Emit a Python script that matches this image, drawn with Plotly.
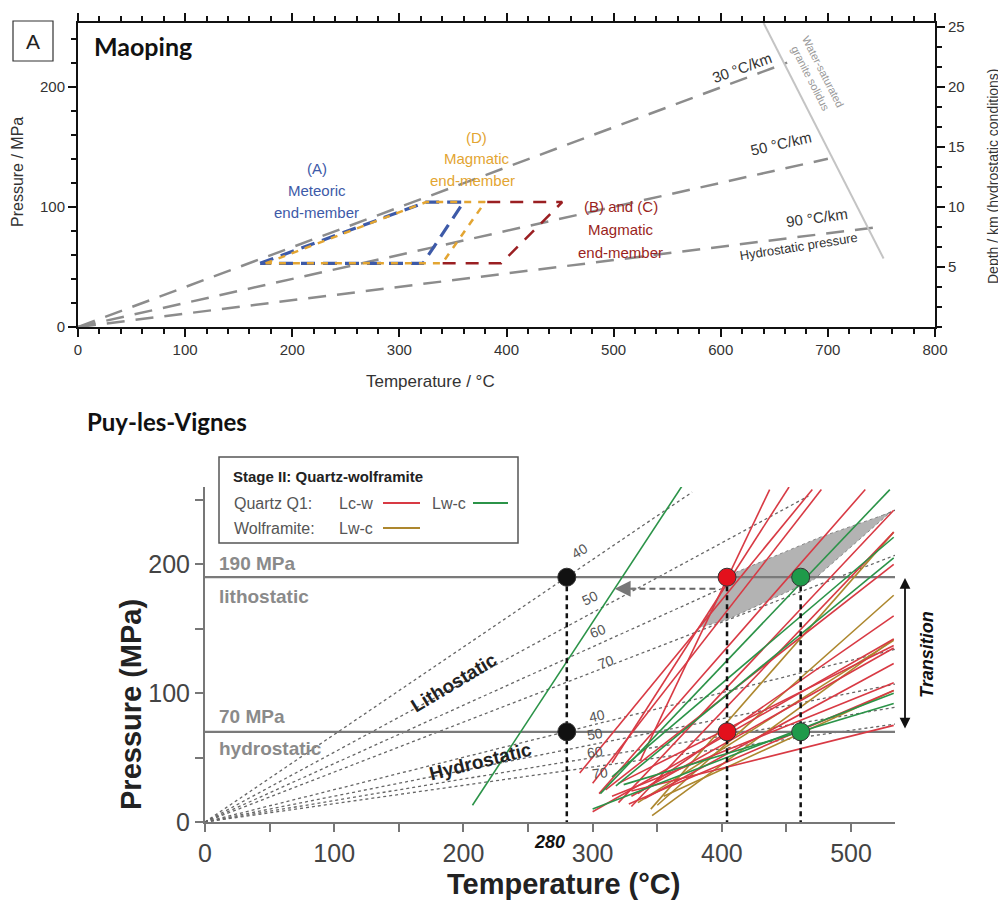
import plotly.graph_objects as go

# page body has an 8px margin: the figure is drawn at (8, 8)
OFF = 8
W, H = 1006 - OFF, 902 - OFF
def PX(x): return (x - OFF) / W
def PY(y): return 1 - (y - OFF) / H

# ================= DATA: Maoping (top panel) =================
mp_grad_labels = ["30 °C/km", "50 °C/km", "90 °C/km"]
mp_grad_T_end = [662, 700, 745]
mp_grad_P_end = [220, 140, 83]
solidus_T = [640, 752]
solidus_P = [253, 57]
meteoric_T = [170, 325, 360, 322, 170]
meteoric_P = [53, 104, 104, 53, 53]
magD_T = [175, 325, 380, 340, 175]
magD_P = [53, 104, 104, 53, 53]
magBC_T = [382, 452, 395, 340]
magBC_P = [104, 104, 53, 53]
mp_xticks = [0, 100, 200, 300, 400, 500, 600, 700, 800]
mp_yticks = [0, 100, 200]
mp_depth_ticks = [5, 10, 15, 20, 25]

# ================= DATA: Puy-les-Vignes (bottom panel) =================
plv_grad_labels = ["40", "50", "60", "70"]
lith_T_end = [377, 467, 534, 534]
lith_P_end = [256, 253, 242, 207]
hydro_T_end = [534, 534, 534, 534]
hydro_P_end = [134, 107, 89, 76]
P_levels = [190, 70]
dot_T = [280, 404, 461]
dot_colors = ["#111111", "#e3101c", "#1f9a4a"]

# Quartz Q1 Lc-w isochores: (T1, P1, T2, P2)
red_iso = [
    (315, 46, 452, 260), (290, 38, 470, 258), (300, 30, 477, 258),
    (305, 22, 511, 258), (320, 15, 533, 242), (330, 12, 533, 225),
    (310, 25, 533, 200), (335, 22, 533, 160), (300, 8, 533, 142),
    (320, 30, 533, 137), (330, 20, 533, 135), (340, 18, 533, 123),
    (315, 20, 533, 108), (328, 14, 533, 102), (330, 24, 533, 75),
    (337, 48, 437, 258),
]
# Quartz Q1 Lw-c isochores
green_iso = [
    (207, 13, 370, 262), (306, 22, 530, 258), (315, 35, 533, 221),
    (318, 28, 533, 205), (300, 10, 533, 100), (324, 29, 533, 92),
]
# Wolframite Lw-c isochores
brown_iso = [
    (345, 10, 533, 225), (350, 13, 533, 176), (346, 5, 533, 142),
    (355, 20, 533, 102), (335, 15, 533, 141),
]
# grey overlap field
field_T = [383, 409, 476, 530, 471, 404, 383]
field_P = [151, 193, 221, 240, 188, 157, 151]
plv_xticks = [0, 50, 100, 150, 200, 250, 300, 350, 400, 450, 500]
plv_xtext = ["0", "", "100", "", "200", "", "300", "", "400", "", "500"]
plv_yticks = [0, 50, 100, 150, 200, 250]
plv_ytext = ["0", "", "100", "", "200", ""]

RED, GREEN, BROWN = "#d83a44", "#2b9348", "#ad872e"
ARIAL = "Liberation Sans, Arial, sans-serif"
HEAD = "Lato, Open Sans, sans-serif"

fig = go.Figure()

# ---------- top panel ----------
for Te, Pe in zip(mp_grad_T_end, mp_grad_P_end):
    fig.add_trace(go.Scatter(x=[0, Te], y=[0, Pe], mode="lines", xaxis="x", yaxis="y",
                             line=dict(color="#8c8c8c", width=2.5, dash="18px,11px"),
                             showlegend=False, hoverinfo="skip"))
fig.add_trace(go.Scatter(x=solidus_T, y=solidus_P, mode="lines", xaxis="x", yaxis="y",
                         line=dict(color="#c4c4c4", width=2), showlegend=False, hoverinfo="skip"))
fig.add_trace(go.Scatter(x=meteoric_T, y=meteoric_P, mode="lines", xaxis="x", yaxis="y",
                         line=dict(color="#3d5aa8", width=3.2, dash="14px,8px"),
                         showlegend=False, hoverinfo="skip"))
fig.add_trace(go.Scatter(x=magD_T, y=magD_P, mode="lines", xaxis="x", yaxis="y",
                         line=dict(color="#e3a532", width=2.5, dash="7px,7px"),
                         showlegend=False, hoverinfo="skip"))
fig.add_trace(go.Scatter(x=magBC_T, y=magBC_P, mode="lines", xaxis="x", yaxis="y",
                         line=dict(color="#9a1f22", width=2.5, dash="13px,10px"),
                         showlegend=False, hoverinfo="skip"))
# dummy for right axis
fig.add_trace(go.Scatter(x=[0], y=[0], mode="markers", xaxis="x", yaxis="y2",
                         marker=dict(opacity=0), showlegend=False, hoverinfo="skip"))

# ---------- bottom panel ----------
for Te, Pe in zip(lith_T_end, lith_P_end):
    fig.add_trace(go.Scatter(x=[0, Te], y=[0, Pe], mode="lines", xaxis="x2", yaxis="y3",
                             line=dict(color="#666", width=1.3, dash="dot"),
                             showlegend=False, hoverinfo="skip"))
for Te, Pe in zip(hydro_T_end, hydro_P_end):
    fig.add_trace(go.Scatter(x=[0, Te], y=[0, Pe], mode="lines", xaxis="x2", yaxis="y3",
                             line=dict(color="#666", width=1.3, dash="dot"),
                             showlegend=False, hoverinfo="skip"))
fig.add_trace(go.Scatter(x=field_T, y=field_P, mode="lines", fill="toself", xaxis="x2", yaxis="y3",
                         fillcolor="#b3b3b3", line=dict(color="#888", width=1, dash="dot"),
                         showlegend=False, hoverinfo="skip"))
for P in P_levels:
    fig.add_trace(go.Scatter(x=[0, 534], y=[P, P], mode="lines", xaxis="x2", yaxis="y3",
                             line=dict(color="#7a7a7a", width=2.2), showlegend=False, hoverinfo="skip"))
for lines, col in ((brown_iso, BROWN), (red_iso, RED), (green_iso, GREEN)):
    for (T1, P1, T2, P2) in lines:
        fig.add_trace(go.Scatter(x=[T1, T2], y=[P1, P2], mode="lines", xaxis="x2", yaxis="y3",
                                 line=dict(color=col, width=1.6), showlegend=False, hoverinfo="skip"))
# dashed arrow line
fig.add_trace(go.Scatter(x=[395, 330], y=[181, 181], mode="lines", xaxis="x2", yaxis="y3",
                         line=dict(color="#666", width=2, dash="6px,4px"),
                         showlegend=False, hoverinfo="skip"))
# vertical dashed lines
vbottom = [-14, 0, 0]
for T, vb in zip(dot_T, vbottom):
    fig.add_trace(go.Scatter(x=[T, T], y=[P_levels[0], vb], mode="lines", xaxis="x2", yaxis="y3",
                             line=dict(color="#111", width=2.5, dash="5px,4px"), cliponaxis=False,
                             showlegend=False, hoverinfo="skip"))
for T, c in zip(dot_T, dot_colors):
    fig.add_trace(go.Scatter(x=[T, T], y=P_levels, mode="markers", xaxis="x2", yaxis="y3",
                             marker=dict(color=c, size=18, line=dict(color="#333", width=1)),
                             showlegend=False, hoverinfo="skip"))

ann = []
def A(text, x, y, xref, yref, size, color="#333", angle=0, bold=False, italic=False,
      font=ARIAL, xanchor="center", yanchor="middle"):
    t = text
    if bold:
        t = "<b>" + t + "</b>"
    if italic:
        t = "<i>" + t + "</i>"
    ann.append(dict(text=t, x=x, y=y, xref=xref, yref=yref, showarrow=False, textangle=angle,
                    font=dict(size=size, color=color, family=font),
                    xanchor=xanchor, yanchor=yanchor))

# top panel texts
A("A", PX(33), PY(41), "paper", "paper", 21, "#222")
A("Maoping", PX(92), PY(46), "paper", "paper", 25, "#111", bold=True, font=HEAD, xanchor="left")
A("(A)", 223, 132, "x", "y", 15, "#3d5aa8")
A("Meteoric", 223, 114, "x", "y", 15, "#3d5aa8")
A("end-member", 223, 95, "x", "y", 15, "#3d5aa8")
A("(D)", 372, 158, "x", "y", 15, "#e3a532")
A("Magmatic", 372, 140, "x", "y", 15, "#e3a532")
A("end-member", 368, 122, "x", "y", 15, "#e3a532")
A("(B) and (C)", 507, 100, "x", "y", 15, "#9a1f22")
A("Magmatic", 507, 81, "x", "y", 15, "#9a1f22")
A("end-member", 506, 62, "x", "y", 15, "#9a1f22")
A("30 °C/km", 620, 216, "x", "y", 15, "#333", angle=-20)
A("50 °C/km", 656, 153, "x", "y", 15, "#333", angle=-13)
A("90 °C/km", 690, 91, "x", "y", 15, "#333", angle=-8)
A("Hydrostatic pressure", 673, 67, "x", "y", 13, "#333", angle=-9)
A("Water-saturated<br>granite solidus", 690, 210, "x", "y", 11, "#999", angle=63)
A("Temperature / °C", PX(430), PY(381), "paper", "paper", 17, "#333")
A("Pressure / MPa", PX(17), PY(172), "paper", "paper", 16, "#333", angle=-90)
A("Depth / km (hydrostatic conditions)", PX(993), PY(176), "paper", "paper", 14, "#333", angle=-90)

# bottom panel texts
A("Puy-les-Vignes", PX(85), PY(421), "paper", "paper", 24, "#111", bold=True, font=HEAD, xanchor="left")
A("190 MPa", 9, 201, "x2", "y3", 19, "#8a8a8a", bold=True, xanchor="left")
A("lithostatic", 9, 175, "x2", "y3", 19, "#8a8a8a", bold=True, xanchor="left")
A("70 MPa", 9, 82, "x2", "y3", 19, "#8a8a8a", bold=True, xanchor="left")
A("hydrostatic", 9, 57, "x2", "y3", 19, "#8a8a8a", bold=True, xanchor="left")
A("Lithostatic", 193, 108, "x2", "y3", 19, "#222", angle=-31, bold=True)
A("Hydrostatic", 213, 47, "x2", "y3", 19, "#222", angle=-14, bold=True)
lith_lab_pos = [(290, 210, -30), (298, 174, -26), (304, 148, -22), (310, 124, -19)]
for lab, (T, P, ang) in zip(plv_grad_labels, lith_lab_pos):
    A(lab, T, P, "x2", "y3", 14, "#555", angle=ang)
hyd_lab_pos = [(303, 82, -12), (302, 68, -10), (302, 54, -8), (306, 38, -7)]
for lab, (T, P, ang) in zip(plv_grad_labels, hyd_lab_pos):
    A(lab, T, P, "x2", "y3", 14, "#555", angle=ang)
A("280", PX(549), PY(842), "paper", "paper", 18, "#111", bold=True, italic=True)
A("Transition", PX(927), PY(655), "paper", "paper", 18, "#111", angle=-90, bold=True, italic=True)
A("Temperature (°C)", PX(563), PY(884), "paper", "paper", 29, "#222", bold=True)
A("Pressure (MPa)", PX(131), PY(705), "paper", "paper", 29, "#222", angle=-90, bold=True)
# legend texts
A("Stage II: Quartz-wolframite", PX(231), PY(476), "paper", "paper", 15, "#222", bold=True, xanchor="left")
A("Quartz Q1:", PX(232), PY(503), "paper", "paper", 16, "#555", xanchor="left")
A("Lc-w", PX(337), PY(503), "paper", "paper", 16, "#555", xanchor="left")
A("Lw-c", PX(430), PY(503), "paper", "paper", 16, "#555", xanchor="left")
A("Wolframite:", PX(232), PY(528), "paper", "paper", 16, "#555", xanchor="left")
A("Lw-c", PX(337), PY(528), "paper", "paper", 16, "#555", xanchor="left")

# arrows
ann.append(dict(x=317, y=181, ax=335, ay=181, xref="x2", yref="y3", axref="x2", ayref="y3",
                text="", showarrow=True, arrowhead=2, arrowsize=1.6, arrowwidth=2, arrowcolor="#777"))
ann.append(dict(x=PX(905), y=PY(578), xref="paper", yref="paper", ax=0, ay=152,
                text="", showarrow=True, arrowhead=2, arrowsize=1.2, arrowwidth=1.8, arrowcolor="#111",
                arrowside="end+start"))

shapes = []
# A box
shapes.append(dict(type="rect", xref="paper", yref="paper", x0=PX(13), x1=PX(53), y0=PY(61), y1=PY(21),
                   line=dict(color="#333", width=1.2)))
# legend box
shapes.append(dict(type="rect", xref="paper", yref="paper", x0=PX(219), x1=PX(518), y0=PY(543), y1=PY(457),
                   line=dict(color="#555", width=1.5), fillcolor="white", layer="above"))
for (x0, x1, y, c) in ((383, 420, 503, RED), (473, 508, 503, GREEN), (383, 420, 528, BROWN)):
    shapes.append(dict(type="line", xref="paper", yref="paper", x0=PX(x0), x1=PX(x1), y0=PY(y), y1=PY(y),
                       line=dict(color=c, width=2.2), layer="above"))

tickfont_top = dict(size=15, color="#333", family=ARIAL)
tickfont_bot = dict(size=25, color="#444", family=ARIAL)

fig.update_layout(
    width=W, height=H, margin=dict(l=0, r=0, t=0, b=0),
    paper_bgcolor="white", plot_bgcolor="rgba(0,0,0,0)", showlegend=False,
    annotations=ann, shapes=shapes,
    xaxis=dict(domain=[PX(78), PX(935)], anchor="y", range=[0, 800], tickvals=mp_xticks,
               showline=True, linecolor="#111", linewidth=2, mirror="ticks",
               ticks="outside", ticklen=8, tickwidth=2, tickcolor="#111",
               minor=dict(dtick=20, ticklen=5, tickwidth=1.5, tickcolor="#111", ticks="outside"),
               showgrid=False, zeroline=False, tickfont=tickfont_top, automargin=False),
    yaxis=dict(domain=[PY(327), PY(23)], anchor="x", range=[0, 253], tickvals=mp_yticks,
               showline=True, linecolor="#111", linewidth=2,
               ticks="outside", ticklen=8, tickwidth=2, tickcolor="#111",
               minor=dict(dtick=20, ticklen=5, tickwidth=1.5, tickcolor="#111", ticks="outside"),
               showgrid=False, zeroline=False, tickfont=tickfont_top, automargin=False),
    yaxis2=dict(overlaying="y", side="right", anchor="x", range=[0, 25.3], tickvals=mp_depth_ticks,
                showline=True, linecolor="#111", linewidth=2,
                ticks="outside", ticklen=8, tickwidth=2, tickcolor="#111",
                minor=dict(dtick=5/3, ticklen=5, tickwidth=1.5, tickcolor="#111", ticks="outside"),
                showgrid=False, zeroline=False, tickfont=tickfont_top, automargin=False),
    xaxis2=dict(domain=[PX(205), PX(895)], anchor="y3", range=[0, 534], tickvals=plv_xticks,
                ticktext=plv_xtext, showline=True, linecolor="#777", linewidth=2,
                ticks="outside", ticklen=8, tickwidth=2, tickcolor="#777",
                showgrid=False, zeroline=False, tickfont=tickfont_bot, automargin=False),
    yaxis3=dict(domain=[PY(822), PY(487)], anchor="x2", range=[0, 260], tickvals=plv_yticks,
                ticktext=plv_ytext, showline=True, linecolor="#777", linewidth=2,
                ticks="outside", ticklen=8, tickwidth=2, tickcolor="#777",
                showgrid=False, zeroline=False, tickfont=tickfont_bot, automargin=False),
)

fig.write_html("out.html")
